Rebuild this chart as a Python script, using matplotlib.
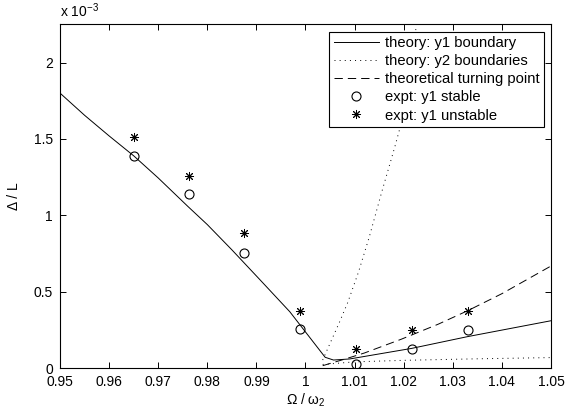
import numpy as np
import matplotlib
matplotlib.use("Agg")
import matplotlib.pyplot as plt
from matplotlib.lines import Line2D

plt.rcParams['font.family'] = ['Liberation Sans', 'DejaVu Sans']
plt.rcParams['mathtext.default'] = 'regular'
plt.rcParams['lines.scale_dashes'] = False

# values in units of 1e-3
y1_x = [0.95, 0.955, 0.96, 0.965, 0.97, 0.976, 0.98, 0.985, 0.9907, 0.9968,
        1.004, 1.0057, 1.009, 1.0216, 1.033, 1.05]
y1_y = [1.80, 1.655, 1.52, 1.39, 1.245, 1.06, 0.94, 0.775, 0.58, 0.37,
        0.072, 0.054, 0.061, 0.13, 0.207, 0.311]

y2a_x = [1.0035, 1.005, 1.0069, 1.0086, 1.0108, 1.013, 1.0155, 1.0182, 1.0205, 1.0228]
y2a_y = [0.054, 0.163, 0.30, 0.43, 0.63, 0.86, 1.15, 1.449, 1.72, 2.30]
y2b_x = [1.0035, 1.01, 1.02, 1.035, 1.05]
y2b_y = [0.025, 0.042, 0.052, 0.062, 0.070]

tp_x = [1.0035, 1.008, 1.012, 1.0195, 1.027, 1.033, 1.04, 1.05]
tp_y = [0.017, 0.06, 0.10, 0.19, 0.288, 0.376, 0.488, 0.669]

expt_x = [0.965, 0.9762, 0.9875, 0.9989, 1.0102, 1.0216, 1.033]
stable_y = [1.39, 1.137, 0.756, 0.255, 0.026, 0.126, 0.252]
unstable_y = [1.514, 1.26, 0.882, 0.375, 0.126, 0.25, 0.376]

xticks = [0.95, 0.96, 0.97, 0.98, 0.99, 1.0, 1.01, 1.02, 1.03, 1.04, 1.05]
xticklabels = ['0.95', '0.96', '0.97', '0.98', '0.99', '1', '1.01', '1.02', '1.03', '1.04', '1.05']
yticks = [0, 0.5, 1, 1.5, 2]
yticklabels = ['0', '0.5', '1', '1.5', '2']

fig = plt.figure(figsize=(5.65, 4.16), dpi=100)
ax = fig.add_axes([0.1062, 0.1147, 0.8690, 0.8269])

lw = 0.7
dots = (0, (0.7, 3.0))
dashes = (0, (6, 3.6))
ax.plot(y1_x, y1_y, '-', color='k', lw=lw)
ax.plot(y2a_x, y2a_y, color='k', lw=lw, linestyle=dots)
ax.plot(y2b_x, y2b_y, color='k', lw=lw, linestyle=dots)
ax.plot(tp_x, tp_y, color='k', lw=lw, linestyle=dashes)
ax.plot(expt_x, stable_y, 'o', mfc='none', mec='k', ms=6.5, mew=0.8)
ax.plot(expt_x, unstable_y, marker=(8, 2, 0), ls='none', color='k', ms=6.5, mew=0.7)

ax.set_xlim(0.95, 1.05)
ax.set_ylim(0, 2.25)
ax.set_xticks(xticks)
ax.set_xticklabels(xticklabels)
ax.set_yticks(yticks)
ax.set_yticklabels(yticklabels)
ax.tick_params(direction='in', top=True, right=True, length=4, width=0.7, labelsize=10)
ax.tick_params(axis='x', pad=5)
ax.tick_params(axis='y', pad=5)
for s in ax.spines.values():
    s.set_linewidth(0.8)

ax.set_xlabel('Ω / ω$_2$', fontsize=10, labelpad=2)
ax.set_ylabel('Δ / L', fontsize=10, labelpad=9)
ax.text(0, 1.012, 'x 10$^{-3}$', transform=ax.transAxes, fontsize=10, va='bottom', ha='left')

handles = [
    Line2D([], [], color='k', lw=lw),
    Line2D([], [], color='k', lw=lw, linestyle=dots),
    Line2D([], [], color='k', lw=lw, linestyle=dashes),
    Line2D([], [], marker='o', ls='none', mfc='none', mec='k', ms=6.5, mew=0.8),
    Line2D([], [], marker=(8, 2, 0), ls='none', color='k', ms=6.5, mew=0.7),
]
labels = ['theory: y1 boundary', 'theory: y2 boundaries', 'theoretical turning point',
          'expt: y1 stable', 'expt: y1 unstable']
leg = ax.legend(handles, labels, loc='upper right', bbox_to_anchor=(0.9864, 0.9785),
                borderaxespad=0, fontsize=10.6, handlelength=3.05, handletextpad=0.45,
                labelspacing=0.28, borderpad=0.3, fancybox=False, framealpha=1)
leg.get_frame().set_edgecolor('k')
leg.get_frame().set_linewidth(0.8)

fig.savefig('out.png', dpi=100)
